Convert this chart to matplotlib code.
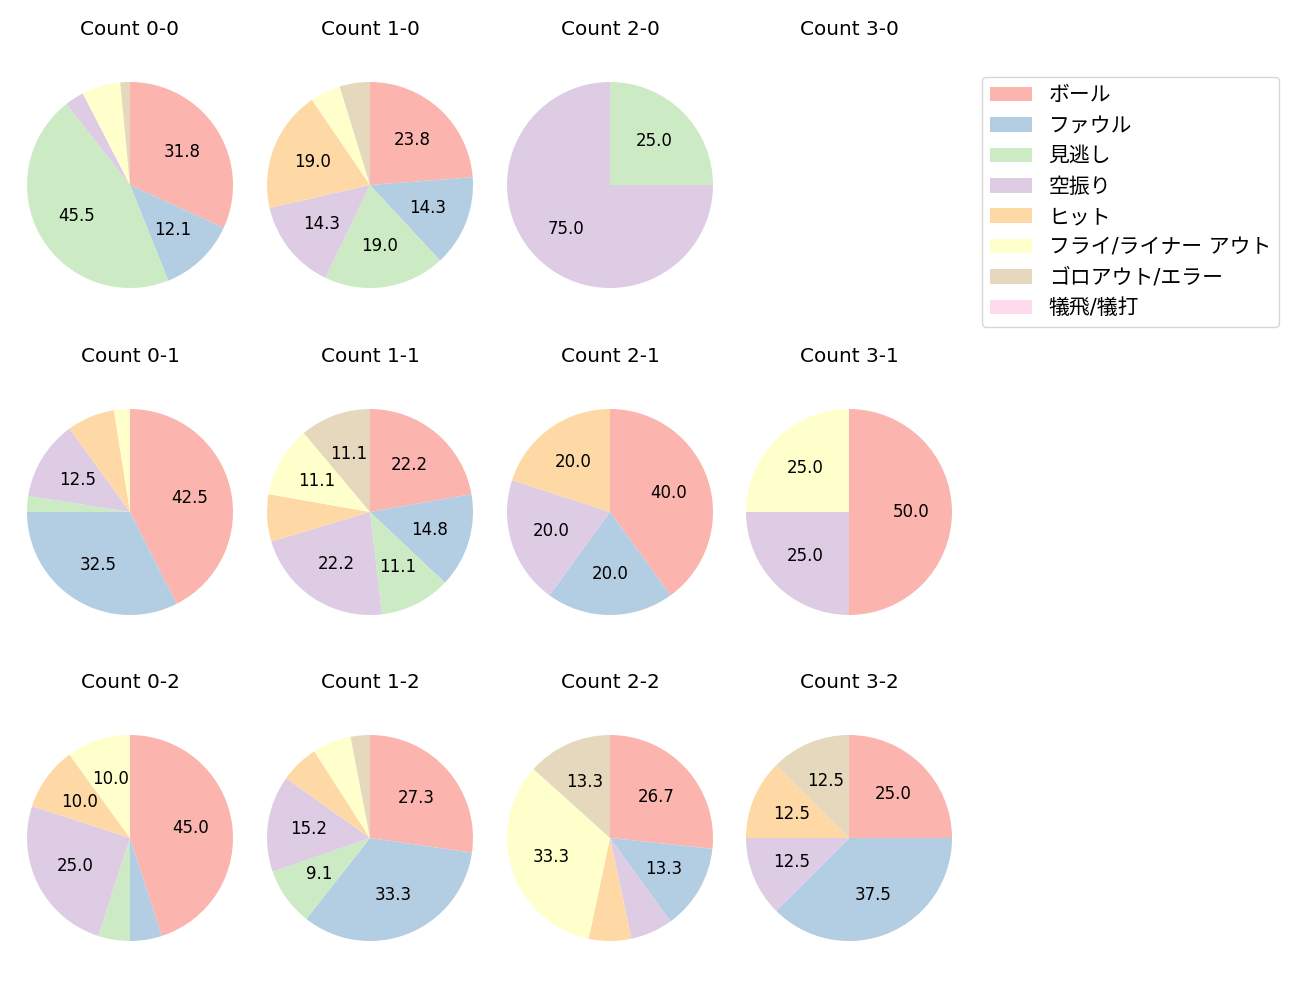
import matplotlib
matplotlib.use("Agg")
import matplotlib.pyplot as plt
from matplotlib.patches import Patch

plt.rcParams['font.family'] = ['DejaVu Sans', 'Noto Sans CJK JP']

categories = ['ボール', 'ファウル', '見逃し', '空振り', 'ヒット',
              'フライ/ライナー アウト', 'ゴロアウト/エラー', '犠飛/犠打']

count_0_0 = [21, 8, 30, 2, 0, 4, 1, 0]
count_1_0 = [5, 3, 4, 3, 4, 1, 1, 0]
count_2_0 = [0, 0, 1, 3, 0, 0, 0, 0]
count_3_0 = []
count_0_1 = [17, 13, 1, 5, 3, 1, 0, 0]
count_1_1 = [6, 4, 3, 6, 2, 3, 3, 0]
count_2_1 = [2, 1, 0, 1, 1, 0, 0, 0]
count_3_1 = [2, 0, 0, 1, 0, 1, 0, 0]
count_0_2 = [9, 1, 1, 5, 2, 2, 0, 0]
count_1_2 = [9, 11, 3, 5, 2, 2, 1, 0]
count_2_2 = [4, 2, 0, 1, 1, 5, 2, 0]
count_3_2 = [2, 3, 0, 1, 1, 0, 1, 0]

grid = [
    [('Count 0-0', count_0_0), ('Count 1-0', count_1_0), ('Count 2-0', count_2_0), ('Count 3-0', count_3_0)],
    [('Count 0-1', count_0_1), ('Count 1-1', count_1_1), ('Count 2-1', count_2_1), ('Count 3-1', count_3_1)],
    [('Count 0-2', count_0_2), ('Count 1-2', count_1_2), ('Count 2-2', count_2_2), ('Count 3-2', count_3_2)],
]

colors = [plt.cm.Pastel1(i) for i in range(len(categories))]

W, H = 1300, 1000
fig = plt.figure(figsize=(13, 10), dpi=100)

col_x = [130, 370, 610, 849]
row_y = [185, 512, 838]
radius_px = 103
size_px = 2.5 * radius_px


def pct_fmt(p):
    return f'{p:.1f}' if p >= 8 else ''


for r, row in enumerate(grid):
    for c, (title, vals) in enumerate(row):
        cx, cy = col_x[c], row_y[r]
        ax = fig.add_axes([(cx - size_px / 2) / W, 1 - (cy + size_px / 2) / H,
                           size_px / W, size_px / H])
        if sum(vals) > 0:
            ax.pie(vals, colors=colors, startangle=90, counterclock=False,
                   autopct=pct_fmt, textprops={'fontsize': 12})
        else:
            ax.set_xlim(-1.25, 1.25)
            ax.set_ylim(-1.25, 1.25)
            ax.set_aspect('equal')
        ax.axis('off')
        ax.set_title(title, fontsize=14.4, pad=15)

handles = [Patch(facecolor=col, label=lab) for col, lab in zip(colors, categories)]
fig.legend(handles=handles, loc='upper left', bbox_to_anchor=(982 / W, 1 - 77 / H),
           borderaxespad=0, fontsize=15, frameon=True)

fig.savefig('out.png', dpi=100)
